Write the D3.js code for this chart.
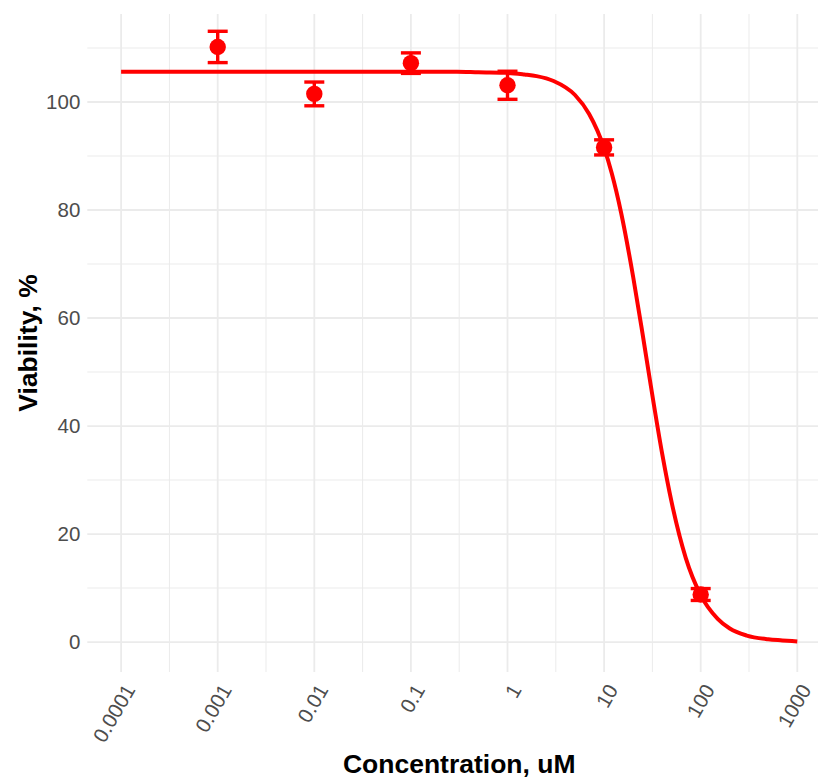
<!DOCTYPE html>
<html>
<head>
<meta charset="utf-8">
<script src="https://cdn.jsdelivr.net/npm/d3@7"></script>
<style>
  html, body { margin: 0; padding: 0; background: #ffffff; }
  svg { display: block; font-family: "Liberation Sans", Arial, sans-serif; }
</style>
</head>
<body>
<svg id="chart" width="818" height="781"></svg>
<script>
// Measured viability (mean ± SE) at each concentration, uM
const concentrations = [0.001, 0.01, 0.1, 1, 10, 100];
const viabilityMean  = [110.2, 101.5, 107.2, 103.1, 91.6, 8.8];
const viabilitySE    = [2.9, 2.2, 1.9, 2.6, 1.4, 1.1];

// Fitted dose-response curve, sampled along the concentration axis
const curveConc = [0.0001, 0.001, 0.01, 0.1, 0.3, 0.5, 1, 1.5, 2, 3, 5, 7, 10, 12, 15, 20, 25, 30, 40, 50, 70, 100, 150, 200, 300, 500, 700, 1000];
const curveViab = [105.6, 105.6, 105.6, 105.6, 105.6, 105.5, 105.4, 105.1, 104.8, 103.9, 101.3, 97.8, 91.5, 86.8, 79.5, 67.6, 57.1, 48.2, 34.8, 25.9, 15.6, 8.7, 4.3, 2.5, 1.2, 0.5, 0.3, 0.1];

// Axis breaks and labels
const xBreaks = [0.0001, 0.001, 0.01, 0.1, 1, 10, 100, 1000];
const xLabels = ["0.0001", "0.001", "0.01", "0.1", "1", "10", "100", "1000"];
const yBreaks = [0, 20, 40, 60, 80, 100];
const yMinorBreaks = [10, 30, 50, 70, 90, 110];

const xTitle = "Concentration, uM";
const yTitle = "Viability, %";

const svg = d3.select("#chart");

// Panel geometry
const panel = { left: 87.3, right: 831.1, top: 14, bottom: 672 };

const x = d3.scaleLog()
  .domain([Math.pow(10, -4.35), Math.pow(10, 3.35)])
  .range([panel.left, panel.right]);

const y = d3.scaleLinear()
  .domain([-5.55, 116.3])
  .range([panel.bottom, panel.top]);

const gridColor = "#EBEBEB";
const red = "#FF0000";
const tickFont = "20.5px";

// Minor grid: log midpoints between decades on x, odd tens on y
const xMinor = d3.pairs(xBreaks).map(([a, b]) => Math.sqrt(a * b));

const grid = svg.append("g");
grid.selectAll("line.ymin").data(yMinorBreaks).join("line")
  .attr("x1", panel.left).attr("x2", panel.right)
  .attr("y1", d => y(d)).attr("y2", d => y(d))
  .attr("stroke", gridColor).attr("stroke-width", 1);
grid.selectAll("line.xmin").data(xMinor).join("line")
  .attr("y1", panel.top).attr("y2", panel.bottom)
  .attr("x1", d => x(d)).attr("x2", d => x(d))
  .attr("stroke", gridColor).attr("stroke-width", 1);
grid.selectAll("line.ymaj").data(yBreaks).join("line")
  .attr("x1", panel.left).attr("x2", panel.right)
  .attr("y1", d => y(d)).attr("y2", d => y(d))
  .attr("stroke", gridColor).attr("stroke-width", 1.8);
grid.selectAll("line.xmaj").data(xBreaks).join("line")
  .attr("y1", panel.top).attr("y2", panel.bottom)
  .attr("x1", d => x(d)).attr("x2", d => x(d))
  .attr("stroke", gridColor).attr("stroke-width", 1.8);

// Y axis tick labels
const yAxis = d3.axisLeft(y).tickValues(yBreaks).tickSize(0).tickPadding(7);
const gy = svg.append("g").attr("transform", `translate(${panel.left},0)`).call(yAxis);
gy.select(".domain").remove();
gy.selectAll("text")
  .attr("fill", "#4D4D4D").style("font-size", tickFont)
  .style("font-family", "'Liberation Sans', Arial, sans-serif");

// X axis tick labels, rotated 60 degrees
const xAxis = d3.axisBottom(x).tickValues(xBreaks)
  .tickFormat((d, i) => xLabels[i]).tickSize(0).tickPadding(0);
const gx = svg.append("g").attr("transform", `translate(0,${panel.bottom})`).call(xAxis);
gx.select(".domain").remove();
gx.selectAll("text")
  .attr("fill", "#4D4D4D").style("font-size", tickFont)
  .style("font-family", "'Liberation Sans', Arial, sans-serif")
  .attr("text-anchor", "end")
  .attr("dy", "0.35em")
  .attr("y", 0)
  .attr("transform", "translate(8,14) rotate(-60)");

// Fitted curve
const line = d3.line()
  .x((d, i) => x(curveConc[i]))
  .y(d => y(d))
  .curve(d3.curveMonotoneX);
svg.append("path")
  .datum(curveViab)
  .attr("d", line)
  .attr("fill", "none")
  .attr("stroke", red)
  .attr("stroke-width", 4);

// Error bars with caps
const capHalf = 10;
const eb = svg.append("g").attr("stroke", red).attr("stroke-width", 3.4).attr("fill", "none");
concentrations.forEach((c, i) => {
  const cx = x(c);
  const hi = y(viabilityMean[i] + viabilitySE[i]);
  const lo = y(viabilityMean[i] - viabilitySE[i]);
  eb.append("line").attr("x1", cx).attr("x2", cx).attr("y1", hi).attr("y2", lo);
  eb.append("line").attr("x1", cx - capHalf).attr("x2", cx + capHalf).attr("y1", hi).attr("y2", hi);
  eb.append("line").attr("x1", cx - capHalf).attr("x2", cx + capHalf).attr("y1", lo).attr("y2", lo);
});

// Mean points
svg.append("g").selectAll("circle")
  .data(concentrations).join("circle")
  .attr("cx", d => x(d))
  .attr("cy", (d, i) => y(viabilityMean[i]))
  .attr("r", 8.2)
  .attr("fill", red);

// Axis titles
svg.append("text")
  .attr("x", (panel.left + panel.right) / 2)
  .attr("y", 773)
  .attr("text-anchor", "middle")
  .style("font-size", "26.5px").style("font-weight", "bold")
  .attr("fill", "#000000")
  .text(xTitle);

svg.append("text")
  .attr("transform", `translate(37,${(panel.top + panel.bottom) / 2}) rotate(-90)`)
  .attr("text-anchor", "middle")
  .style("font-size", "26.5px").style("font-weight", "bold")
  .attr("fill", "#000000")
  .text(yTitle);
</script>
</body>
</html>
